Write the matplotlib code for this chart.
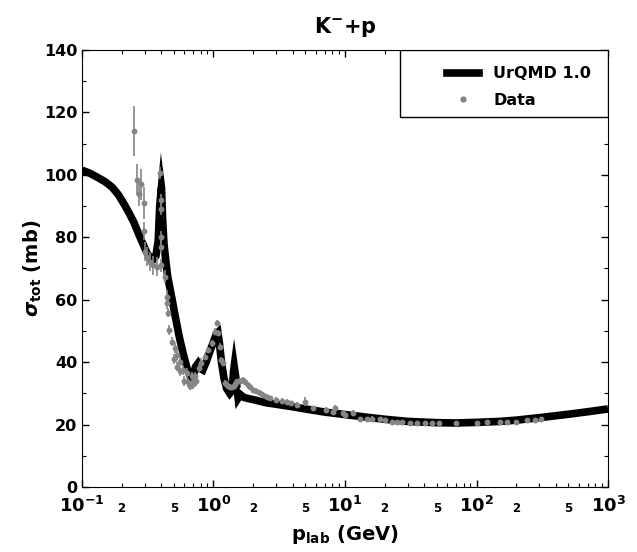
import numpy as np
import matplotlib
matplotlib.use('Agg')
import matplotlib.pyplot as plt
import matplotlib.patches as patches
from matplotlib.ticker import LogLocator, FuncFormatter, MultipleLocator
from matplotlib.lines import Line2D

plt.rcParams['font.family'] = ['DejaVu Sans']
plt.rcParams['font.weight'] = 'bold'
plt.rcParams['mathtext.fontset'] = 'dejavusans'

# UrQMD 1.0 model curve
p_model = [0.100, 0.115, 0.13, 0.15, 0.17, 0.19, 0.21, 0.23, 0.25, 0.27, 0.29, 0.31,
           0.33, 0.35, 0.365, 0.38, 0.39, 0.398, 0.402, 0.41, 0.42, 0.435, 0.45, 0.48,
           0.51, 0.55, 0.59, 0.63, 0.67, 0.70, 0.73, 0.76, 0.79, 0.83, 0.88, 0.94,
           1.0, 1.05, 1.08, 1.11, 1.15, 1.2, 1.26, 1.33, 1.39, 1.42, 1.44, 1.49,
           1.54, 1.60, 1.7, 1.85, 2.0, 2.5, 3.0, 4.0, 5.0, 7.0, 10, 15, 20, 30, 50,
           70, 100, 150, 200, 300, 500, 700, 1000]
sig_model = [101.5, 100.5, 99.3, 97.8, 96, 93.5, 90.5, 87.5, 84.5, 81, 78, 75.2,
             73.5, 73, 74, 79, 90, 101, 96, 86, 78, 72, 67, 61,
             55, 48, 42.5, 38, 35, 35.5, 38.5, 39.5, 38, 37.5, 40, 43.5,
             46.5, 49, 49.5, 46, 40, 35, 31.5, 30, 31, 37, 41.5, 34,
             28.5, 29.6, 28.7, 28.3, 28, 27, 26.5, 25.7, 25, 24, 23.2, 22.3, 21.7, 21, 20.6,
             20.5, 20.7, 21, 21.4, 22.2, 23.3, 24.1, 25]

# measured data
p_data = [0.248, 0.26, 0.27, 0.279, 0.298, 0.298, 0.30, 0.31, 0.329, 0.348, 0.37,
          0.392, 0.40, 0.40, 0.40, 0.40, 0.40, 0.43, 0.44, 0.44, 0.453, 0.46, 0.48,
          0.50, 0.51, 0.524, 0.53, 0.555, 0.56, 0.588, 0.60, 0.624, 0.64, 0.66, 0.683,
          0.70, 0.72, 0.74, 0.77, 0.81, 0.86, 0.91, 0.97, 1.03, 1.06, 1.09, 1.12,
          1.15, 1.19, 1.22, 1.25, 1.30, 1.33, 1.38, 1.42, 1.45, 1.49, 1.53, 1.60,
          1.68, 1.75, 1.84, 1.90, 2.0, 2.1, 2.25, 2.4, 2.53, 2.7, 3.0, 3.3, 3.6,
          3.9, 4.3, 4.96, 5.7, 7.2, 8.1, 8.4, 9.6, 10.0, 11.6, 13.1, 14.6, 16, 18.4,
          20.1, 22.6, 24.7, 27.2, 31.3, 35.3, 40.8, 45.8, 51.6, 70, 100, 120, 150,
          170, 200, 240, 280, 310]
sig_data = [114, 98.4, 94, 97, 91, 82, 75.4, 73.8, 72.2, 71, 70.6,
            100.6, 92, 89, 80, 77, 71, 67.4, 61, 59, 55.8, 50.3, 46.6,
            41, 44.5, 42.3, 38.5, 40.2, 37, 37.5, 34, 36.5, 33.5, 32.5, 35.4,
            33, 35.4, 34, 38, 39.7, 41.8, 43.9, 46, 49.8, 52.5, 49.3, 45,
            40.7, 39.7, 33.2, 33, 32.5, 32.1, 32, 32.5, 33, 33.7, 33.8, 34,
            34.3, 33.5, 32.7, 32, 31.1, 30.8, 30.2, 29.5, 28.9, 28.5, 27.9, 27.6, 27.3,
            26.9, 26.3, 27.3, 25.2, 24.7, 24.1, 25.2, 23.6, 23.1, 23.6, 21.7, 21.7, 21.7, 21.7,
            21.3, 20.9, 20.9, 20.9, 20.6, 20.6, 20.6, 20.6, 20.6, 20.6, 20.6, 20.7, 20.7,
            20.7, 20.9, 21.3, 21.5, 21.7]
err_data = [8, 5, 4, 5, 5, 3, 3, 3, 3, 3, 3,
            2, 2, 2, 2, 2, 2, 2, 2, 2, 1.5, 1.5, 1.5,
            1.5, 1.5, 1.5, 1.5, 1.5, 1.5, 1.5, 1.5, 1.5, 1.5, 1.5, 1.5,
            1.5, 1.5, 1.5, 1.5, 1.5, 1, 1, 1, 1, 1, 1, 1,
            1, 1, 1, 0.8, 0.8, 0.8, 0.8, 0.8, 0.8, 0.8, 0.8, 0.8,
            0.8, 0.8, 0.8, 0.8, 0.8, 0.8, 0.8, 0.8, 0.8, 0.8, 0.8, 0.8, 0.8,
            0.8, 0.8, 1.5, 0.8, 0.8, 0.8, 1.2, 0.8, 0.8, 1.0, 0.5, 0.5, 1.0, 0.5,
            0.5, 0.5, 0.5, 0.5, 0.5, 0.5, 0.5, 0.5, 0.5, 0.5, 0.5, 0.5, 0.5,
            0.5, 0.5, 0.5, 0.5, 0.5]

gray = '#858585'
band_lw = 5.5  # points


def thick_band(ax, xs, ys, lw_pt, miter_max=5.0):
    # outline of a thick line with sharp (miter) joins, built in pixel space
    pts = ax.transData.transform(np.column_stack([xs, ys]))
    hw = lw_pt * ax.figure.dpi / 72.0 / 2.0
    d = np.diff(pts, axis=0)
    n = np.column_stack([-d[:, 1], d[:, 0]])
    n = n / np.hypot(n[:, 0], n[:, 1])[:, None]
    up, lo = [], []
    for k in range(len(pts)):
        if k == 0:
            m, L = n[0], hw
        elif k == len(pts) - 1:
            m, L = n[-1], hw
        else:
            m = n[k - 1] + n[k]
            m = m / np.hypot(m[0], m[1])
            L = min(hw / max(np.dot(m, n[k]), 1e-6), miter_max * hw)
        up.append(pts[k] + L * m)
        lo.append(pts[k] - L * m)
    poly = np.vstack([up, lo[::-1]])
    poly = ax.transData.inverted().transform(poly)
    ax.fill(poly[:, 0], poly[:, 1], color='k', lw=0, zorder=2)


fig = plt.figure(figsize=(6.37, 5.52), dpi=100)
ax = fig.add_axes([0.1287, 0.1178, 0.8258, 0.7916])

ax.set_xscale('log')
ax.set_xlim(0.1, 1000)
ax.set_ylim(0, 140)

thick_band(ax, p_model, sig_model, band_lw)
ax.errorbar(p_data, sig_data, yerr=err_data, fmt='o', color=gray, ms=3.2,
            elinewidth=1.2, capsize=0, zorder=3)

ax.yaxis.set_major_locator(MultipleLocator(20))
ax.yaxis.set_minor_locator(MultipleLocator(10))
ax.xaxis.set_major_locator(LogLocator(base=10, numticks=10))
ax.xaxis.set_minor_locator(LogLocator(base=10, subs=np.arange(2, 10), numticks=20))


def major_fmt(v, pos):
    return r'$\mathbf{10^{%d}}$' % int(round(np.log10(v)))


def minor_fmt(v, pos):
    m = v / 10 ** np.floor(np.log10(v) + 1e-9)
    if abs(m - 2) < 0.01:
        return '2'
    if abs(m - 5) < 0.01:
        return '5'
    return ''


ax.xaxis.set_major_formatter(FuncFormatter(major_fmt))
ax.xaxis.set_minor_formatter(FuncFormatter(minor_fmt))

ax.tick_params(which='both', direction='in', top=True, right=True)
ax.tick_params(which='major', length=5, width=1)
ax.tick_params(which='minor', length=3, width=0.8)
ax.tick_params(axis='y', labelsize=11.5)
ax.tick_params(axis='x', which='major', labelsize=13, pad=6.5)
ax.tick_params(axis='x', which='minor', labelsize=8.5, pad=11)

ax.set_xlabel(r'p$_{\mathbf{lab}}$ (GeV)', fontsize=14, fontweight='bold', labelpad=5)
ax.set_ylabel(r'$\sigma_{\mathbf{tot}}$ (mb)', fontsize=14, fontweight='bold', labelpad=0)
ax.set_title(r'K$^{\mathbf{-}}$+p', fontsize=15, fontweight='bold', pad=12)

# legend box
box = patches.Rectangle((0.605, 0.847), 0.395, 0.153, transform=ax.transAxes,
                        facecolor='white', edgecolor='k', lw=1.0, zorder=4)
ax.add_patch(box)
handles = [Line2D([], [], color='k', lw=band_lw),
           Line2D([], [], color=gray, marker='o', ms=3.5, ls='none')]
leg = ax.legend(handles, ['UrQMD 1.0', 'Data'], loc='upper left',
                bbox_to_anchor=(0.694, 0.963), frameon=False, fontsize=11.5,
                handlelength=2.0, handletextpad=0.9, borderpad=0, borderaxespad=0,
                labelspacing=0.72)
leg.set_zorder(5)

plt.savefig('out.png', dpi=100)
